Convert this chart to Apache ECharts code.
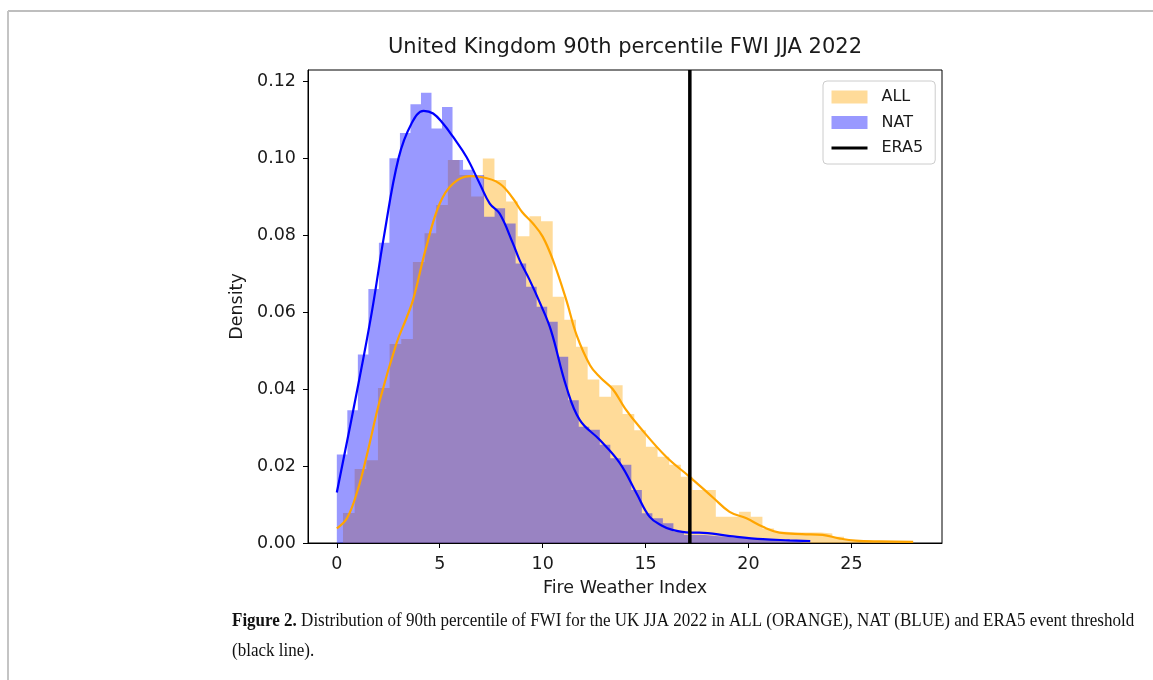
<!DOCTYPE html>
<html><head><meta charset="utf-8">
<script src="https://cdn.jsdelivr.net/npm/echarts@6/dist/echarts.min.js"></script>
<style>html,body{margin:0;padding:0;background:#fff}#c{width:1153px;height:680px}</style>
</head><body><div id="c"></div>
<script>
// ---- data ----
const titleText = 'United Kingdom 90th percentile FWI JJA 2022';
const xTicks = [0, 5, 10, 15, 20, 25];
const yTicks = [0, 0.02, 0.04, 0.06, 0.08, 0.10, 0.12];

// ALL histogram (density), bins start / width
const allBinStart = 0.3;
const allBinWidth = 0.566;
const allHist = [0.0078, 0.0192, 0.0215, 0.0403, 0.0517, 0.053, 0.073, 0.0805, 0.0878, 0.0995,
  0.0956, 0.090, 0.0999, 0.0943, 0.0887, 0.0797, 0.0849, 0.0836, 0.064, 0.058,
  0.051, 0.0425, 0.038, 0.041, 0.0335, 0.0293, 0.025, 0.0224, 0.0203, 0.0172,
  0.0138, 0.0138, 0.0068, 0.0068, 0.0081, 0.0068, 0.0038, 0.0029, 0.0027, 0.0027,
  0.0027, 0.0025, 0.0016, 0.0008, 0.0008, 0.0004, 0.0004, 0.0004, 0.0004];

// NAT histogram (density)
const natBinStart = 0.0;
const natBinWidth = 0.511;
const natHist = [0.023, 0.0345, 0.049, 0.066, 0.078, 0.100, 0.1065, 0.114, 0.117, 0.1077,
  0.1133, 0.0995, 0.097, 0.0956, 0.0848, 0.087, 0.083, 0.0726, 0.0666, 0.0614,
  0.0575, 0.0484, 0.0371, 0.0302, 0.0294, 0.0255, 0.022, 0.0203, 0.0138, 0.0077,
  0.0064, 0.0051, 0.0029, 0.0021, 0.0021, 0.0018, 0.0016, 0.0013, 0.0013, 0.0010,
  0.0010, 0.0008, 0.0005, 0.0005, 0.0003];

// KDE curves
const allKdeX = [0, 0.5, 1.0, 1.44, 2.09, 2.9, 3.38, 3.7, 4.35, 5.0, 5.65, 6.46, 7.02, 7.91, 8.56, 9.0, 9.53, 10.0, 10.5,
  11.15, 11.65, 12.3, 12.8, 13.4, 14.0, 14.7, 16.0, 17.14, 18.3, 19.08, 19.9, 20.7, 21.5, 22.6, 23.6, 24.4, 25.2, 26.4, 28.0];
const allKdeY = [0.0038, 0.0065, 0.0135, 0.0224, 0.0371, 0.0519, 0.0584, 0.0631, 0.077, 0.0882, 0.0934, 0.0953, 0.0951, 0.0934, 0.0895, 0.086, 0.083, 0.0796, 0.0735,
  0.0631, 0.054, 0.0462, 0.043, 0.040, 0.035, 0.0302, 0.0224, 0.0172, 0.0117, 0.0081, 0.0064, 0.0042, 0.0027, 0.0023, 0.0021, 0.0012, 0.0006, 0.0004, 0.0003];
const natKdeX = [0, 1.0, 1.7, 2.3, 3.0, 3.63, 4.22, 4.68, 5.16, 5.65, 6.3, 6.94, 7.43, 7.91, 8.56,
  8.88, 9.37, 9.9, 10.4, 11.15, 11.8, 12.77, 13.74, 14.55, 15.2, 15.8, 16.3, 17.14, 17.6, 19.1, 20.7, 22.0, 23.0];
const natKdeY = [0.0131, 0.040, 0.060, 0.080, 0.100, 0.109, 0.1123, 0.1116, 0.109, 0.1055, 0.1003, 0.0934, 0.0882, 0.0856, 0.0778,
  0.0735, 0.0683, 0.062, 0.0553, 0.0406, 0.032, 0.0268, 0.0208, 0.013, 0.0068, 0.0045, 0.0034, 0.0027, 0.0027, 0.0018, 0.001, 0.0007, 0.0005];

// ERA5 event threshold
const era5Value = 17.15;

const captionBold = 'Figure 2.';
const captionRest = ' Distribution of 90th percentile of FWI for the UK JJA 2022 in ALL (ORANGE), NAT (BLUE) and ERA5 event threshold';
const captionLine2 = '(black line).';

// ---- build ----
function stepData(start, w, vals) {
  const d = vals.map((v, i) => [start + i * w, v]);
  d.push([start + vals.length * w, vals[vals.length - 1]]);
  return d;
}
function zip(xs, ys) { return xs.map((x, i) => [x, ys[i]]); }

const X_MIN = -1.4, X_MAX = 29.4, Y_MAX = 0.1229;
const FONT = 'DejaVu Sans';
const TXT = '#1a1a1a';
const ORANGE_FILL = 'rgba(255,165,0,0.4)';
const BLUE_FILL = 'rgba(0,0,255,0.4)';

const chart = echarts.init(document.getElementById('c'), null, {renderer: 'canvas'});
chart.setOption({
  animation: false,
  backgroundColor: '#fff',
  title: {
    text: titleText, left: 625, top: 37, textAlign: 'center', padding: 0,
    textStyle: {fontFamily: FONT, fontSize: 21, fontWeight: 'normal', color: TXT}
  },
  grid: {left: 308, top: 70, width: 634, height: 473, show: true, borderColor: '#000', borderWidth: 1, backgroundColor: 'transparent', containLabel: false},
  legend: {
    orient: 'vertical', left: 823, top: 81, padding: [8, 12, 8, 7], itemGap: 9.5,
    itemWidth: 36, itemHeight: 13,
    backgroundColor: 'rgba(255,255,255,0.8)', borderColor: '#cccccc', borderWidth: 1, borderRadius: 4,
    textStyle: {fontFamily: FONT, fontSize: 16, color: TXT, padding: [0, 0, 0, 9]},
    data: [
      {name: 'ALL', icon: 'rect', itemStyle: {color: ORANGE_FILL}},
      {name: 'NAT', icon: 'rect', itemStyle: {color: BLUE_FILL}},
      {name: 'ERA5', itemStyle: {opacity: 0}, lineStyle: {width: 3, color: '#000'}}
    ]
  },
  xAxis: {
    type: 'value', min: X_MIN, max: X_MAX, z: 10,
    name: 'Fire Weather Index', nameLocation: 'middle', nameGap: 36,
    nameTextStyle: {fontFamily: FONT, fontSize: 17.5, color: TXT},
    axisLine: {show: true, onZero: false, lineStyle: {color: '#000', width: 1}},
    axisTick: {show: true, length: 5, customValues: xTicks, lineStyle: {color: '#000', width: 1}},
    axisLabel: {customValues: xTicks, margin: 12, fontFamily: FONT, fontSize: 17.5, color: TXT},
    splitLine: {show: false}
  },
  yAxis: {
    type: 'value', min: 0, max: Y_MAX, z: 10,
    name: 'Density', nameLocation: 'middle', nameGap: 55,
    nameTextStyle: {fontFamily: FONT, fontSize: 17.5, color: TXT},
    axisLine: {show: true, onZero: false, lineStyle: {color: '#000', width: 1}},
    axisTick: {show: true, length: 5, customValues: yTicks, lineStyle: {color: '#000', width: 1}},
    axisLabel: {customValues: yTicks, margin: 12, fontFamily: FONT, fontSize: 17.5, color: TXT,
      formatter: v => v.toFixed(2)},
    splitLine: {show: false}
  },
  series: [
    {name: 'ALL', type: 'line', step: 'end', data: stepData(allBinStart, allBinWidth, allHist),
      symbol: 'none', lineStyle: {width: 0, color: ORANGE_FILL}, itemStyle: {color: ORANGE_FILL},
      areaStyle: {color: ORANGE_FILL, opacity: 1}, z: 1},
    {name: 'NAT', type: 'line', step: 'end', data: stepData(natBinStart, natBinWidth, natHist),
      symbol: 'none', lineStyle: {width: 0, color: BLUE_FILL}, itemStyle: {color: BLUE_FILL},
      areaStyle: {color: BLUE_FILL, opacity: 1}, z: 2},
    {name: 'ALL', type: 'line', data: zip(allKdeX, allKdeY), smooth: 0.4, symbol: 'none',
      lineStyle: {width: 2.2, color: '#ffa500'}, itemStyle: {color: '#ffa500'}, z: 3},
    {name: 'NAT', type: 'line', data: zip(natKdeX, natKdeY), smooth: 0.4, symbol: 'none',
      lineStyle: {width: 2.2, color: '#0000ff'}, itemStyle: {color: '#0000ff'}, z: 4},
    {name: 'ERA5', type: 'line', data: [[era5Value, 0], [era5Value, Y_MAX]], symbol: 'none',
      lineStyle: {width: 3.5, color: '#000'}, itemStyle: {color: '#000'}, z: 5}
  ],
  graphic: [
    {type: 'line', shape: {x1: 8, y1: 11, x2: 1153, y2: 11}, style: {stroke: '#a8a8a8', lineWidth: 1.5}, silent: true},
    {type: 'line', shape: {x1: 8, y1: 11, x2: 8, y2: 680}, style: {stroke: '#c4c4c4', lineWidth: 2}, silent: true},
    {type: 'text', x: 232, y: 606, scaleX: 0.895, scaleY: 1, silent: true,
      style: {
        text: '{b|' + captionBold + '}' + captionRest + '\n' + captionLine2,
        fontFamily: 'Liberation Serif', fontSize: 19, fill: '#111', lineHeight: 30,
        verticalAlign: 'top', align: 'left',
        rich: {b: {fontWeight: 'bold', fontFamily: 'Liberation Serif', fontSize: 19, fill: '#111', lineHeight: 30}}
      }}
  ]
});
</script></body></html>
